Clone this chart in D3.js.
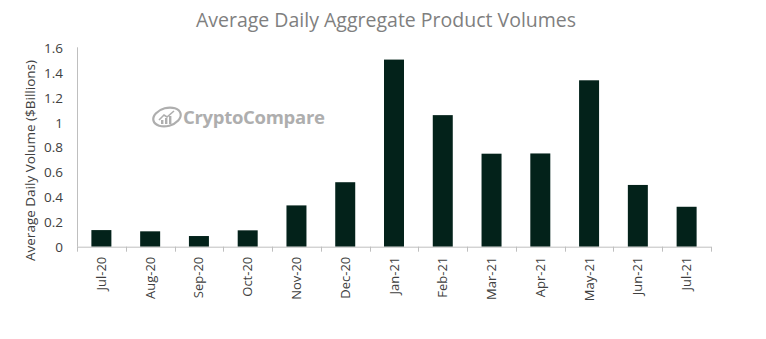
<!DOCTYPE html>
<html>
<head>
<meta charset="utf-8">
<script src="https://cdn.jsdelivr.net/npm/d3@7"></script>
<style>
  html, body { margin: 0; padding: 0; background: #fff; }
  svg { display: block; }
  text { font-family: "Open Sans", "Noto Sans", sans-serif; }
</style>
</head>
<body>
<div id="chart"></div>
<script>
// Monthly average daily aggregate product volume, $ billions
const months = ["Jul-20", "Aug-20", "Sep-20", "Oct-20", "Nov-20", "Dec-20",
                "Jan-21", "Feb-21", "Mar-21", "Apr-21", "May-21", "Jun-21", "Jul-21"];
const volumes = [0.134, 0.124, 0.086, 0.132, 0.333, 0.52,
                 1.509, 1.061, 0.75, 0.752, 1.342, 0.498, 0.322];
const yTicks = [0, 0.2, 0.4, 0.6, 0.8, 1, 1.2, 1.4, 1.6];
const titleText = "Average Daily Aggregate Product Volumes";
const yTitleText = "Average Daily Volume ($Billions)";

const W = 766, H = 339;
const margin = { left: 77, right: 55, top: 48.3, bottom: 92.3 };

const svg = d3.select("#chart").append("svg")
  .attr("width", W).attr("height", H);

const x = d3.scaleBand()
  .domain(months)
  .range([margin.left, W - margin.right])
  .paddingInner(0.59)
  .paddingOuter(0.295);

const y = d3.scaleLinear()
  .domain([0, 1.6])
  .range([H - margin.bottom, margin.top]);

// Title
svg.append("text")
  .attr("x", 386).attr("y", 27)
  .attr("text-anchor", "middle")
  .attr("font-size", 19.5)
  .attr("fill", "#7f7f7f")
  .text(titleText);

// Watermark
const wm = svg.append("g").attr("transform", "translate(152,106)").attr("opacity", 0.9);
wm.append("ellipse")
  .attr("cx", 15).attr("cy", 11).attr("rx", 14).attr("ry", 9)
  .attr("transform", "rotate(-15 15 11)")
  .attr("fill", "none").attr("stroke", "#a6a6a6").attr("stroke-width", 2.2);
[[9, 14, 4], [13, 12, 6], [17, 10, 8]].forEach(([bx, by, bh]) => {
  wm.append("rect").attr("x", bx).attr("y", by).attr("width", 2.4).attr("height", bh)
    .attr("fill", "#a6a6a6");
});
wm.append("path")
  .attr("d", "M7,14 L12,9 L15,11 L22,5")
  .attr("fill", "none").attr("stroke", "#a6a6a6").attr("stroke-width", 1.6);
wm.append("text")
  .attr("x", 31).attr("y", 17.5)
  .attr("font-size", 18.5).attr("font-weight", 700)
  .attr("fill", "#a6a6a6")
  .attr("letter-spacing", -0.3)
  .text("CryptoCompare");

// Bars
svg.append("g").selectAll("rect")
  .data(months.map((m, i) => ({ m, v: volumes[i] })))
  .join("rect")
  .attr("x", d => x(d.m))
  .attr("width", x.bandwidth())
  .attr("y", d => y(d.v))
  .attr("height", d => y(0) - y(d.v))
  .attr("fill", "#03221a");

// Y axis: line and labels, no tick marks
const yAxis = svg.append("g")
  .attr("transform", `translate(${margin.left},0)`)
  .call(d3.axisLeft(y).tickValues(yTicks).tickSize(0).tickPadding(14)
    .tickFormat(d3.format("~g")));
yAxis.select(".domain").attr("stroke", "#bfbfbf").attr("d", `M0.5,${y(1.6) - 1}V${y(0)}`);
yAxis.selectAll("text")
  .attr("font-family", "'Open Sans', sans-serif")
  .attr("font-size", 13.5).attr("fill", "#404040");

// X axis: ticks at category boundaries
const xAxisG = svg.append("g")
  .attr("transform", `translate(0,${y(0)})`);
xAxisG.append("line")
  .attr("x1", margin.left).attr("x2", W - margin.right)
  .attr("y1", 0.5).attr("y2", 0.5)
  .attr("stroke", "#bfbfbf");
const step = x.step();
const boundaries = d3.range(months.length + 1).map(i => x(months[0]) - x.paddingOuter() * step + i * step);
xAxisG.selectAll("line.tick")
  .data(boundaries)
  .join("line")
  .attr("class", "tick")
  .attr("x1", d => Math.round(d) + 0.5).attr("x2", d => Math.round(d) + 0.5)
  .attr("y1", 0).attr("y2", 5)
  .attr("stroke", "#bfbfbf");
xAxisG.selectAll("text")
  .data(months)
  .join("text")
  .attr("transform", d => `translate(${x(d) + x.bandwidth() / 2 + 4.5},10) rotate(-90)`)
  .attr("text-anchor", "end")
  .attr("font-size", 13)
  .attr("fill", "#404040")
  .text(d => d);

// Y axis title
svg.append("text")
  .attr("transform", `translate(35,${(y(0) + y(1.6)) / 2 + 13}) rotate(-90)`)
  .attr("text-anchor", "middle")
  .attr("font-size", 13.5)
  .attr("fill", "#404040")
  .text(yTitleText);
</script>
</body>
</html>
